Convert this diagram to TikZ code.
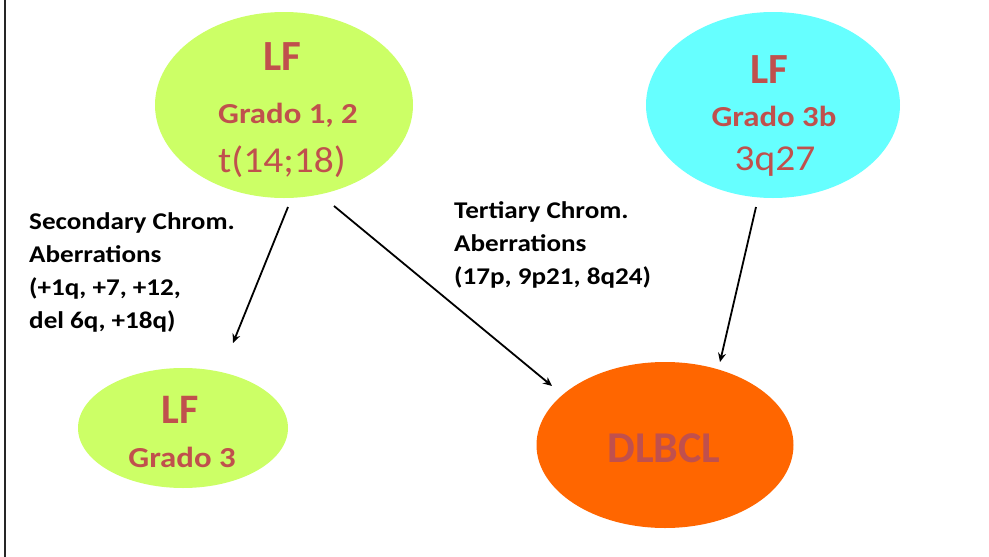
\documentclass[tikz,border=0pt]{standalone}
\usepackage{fontspec}
\setmainfont{Carlito}
\newfontfamily\wfont[FakeStretch=1.13]{Carlito}
\newfontfamily\rfont[FakeStretch=1.08]{Carlito}
\usetikzlibrary{shapes.geometric,arrows.meta}
\definecolor{txtred}{HTML}{C0504D}
\definecolor{lgreen}{HTML}{CCFF66}
\definecolor{lcyan}{HTML}{66FFFF}
\definecolor{lorange}{HTML}{FF6600}
\tikzset{
  blob/.style={ellipse, draw=none, inner sep=0pt},
  big/.style={anchor=base, text=txtred, inner sep=0pt, font=\bfseries\fontsize{43}{50}\selectfont},
  mid/.style={anchor=base, text=txtred, inner sep=0pt, font=\wfont\bfseries\fontsize{29}{34}\selectfont},
  reg/.style={anchor=base, text=txtred, inner sep=0pt, font=\rfont\fontsize{36.5}{42}\selectfont},
  note/.style={anchor=base west, align=left, inner sep=0pt, font=\wfont\bfseries\fontsize{24}{33}\selectfont},
  arr/.style={-{Stealth[length=9pt,width=8pt]}, line width=1.8pt, black}
}
\begin{document}
\begin{tikzpicture}[x=1pt,y=-1pt]
\useasboundingbox (0,0) rectangle (989,557);
\fill[white] (0,0) rectangle (989,557);
\draw[line width=2pt, black!85] (5,0) -- (5,557);
% ellipses
\node[blob, fill=lgreen, minimum width=258pt, minimum height=186pt] (g1) at (284,105) {};
\node[blob, fill=lcyan, minimum width=254pt, minimum height=186pt] (c1) at (773,105) {};
\node[blob, fill=lgreen, minimum width=210pt, minimum height=120pt] (g3) at (183,428) {};
\node[blob, fill=lorange, minimum width=257pt, minimum height=166pt] (dl) at (665,445) {};
% texts
\node[big] (g1a) at (282,70) {LF};
\node[mid] (g1b) at (288,123) {Grado 1, 2};
\node[reg] (g1c) at (282,172) {t(14;18)};
\node[big] (c1a) at (769,83) {LF};
\node[mid] (c1b) at (774,126) {Grado 3b};
\node[reg] (c1c) at (775,170) {3q27};
\node[big, font=\bfseries\fontsize{42}{48}\selectfont] (g3a) at (180,423) {LF};
\node[mid] (g3b) at (182,467) {Grado 3};
\node[big, font=\bfseries\fontsize{44}{52}\selectfont] (dla) at (664,462) {DLBCL};
% notes (anchored at the baseline of their last line)
\node[note] (sec) at (29,328) {Secondary Chrom.\\Aberrations\\(+1q, +7, +12,\\del 6q, +18q)};
\node[note] (ter) at (454,284) {Tertiary Chrom.\\Aberrations\\(17p, 9p21, 8q24)};
% arrows
\coordinate (a1s) at (288,207);
\coordinate (a1e) at (233,343);
\coordinate (a2s) at (334,206);
\coordinate (a2e) at (552,386);
\coordinate (a3s) at (756,207);
\coordinate (a3e) at (720,362);
\draw[arr] (a1s) -- (a1e);
\draw[arr] (a2s) -- (a2e);
\draw[arr] (a3s) -- (a3e);
\end{tikzpicture}
\end{document}
